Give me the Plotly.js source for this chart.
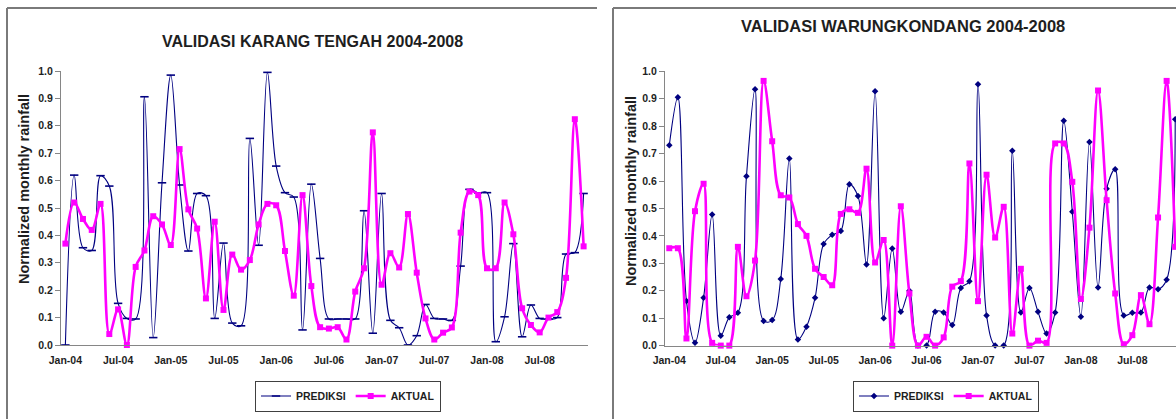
<!DOCTYPE html>
<html>
<head>
<meta charset="utf-8">
<script src="https://cdn.plot.ly/plotly-3.0.1.min.js"></script>
<style>
  html, body { margin: 0; padding: 0; overflow: hidden; background: #fff; }
  #chart { width: 1200px; height: 419px; }
</style>
</head>
<body>
<div id="chart"></div>
<script>
// Monthly categories, Jan 2004 - Dec 2008
const months = [
  'Jan-04','Feb-04','Mar-04','Apr-04','May-04','Jun-04','Jul-04','Aug-04','Sep-04','Oct-04','Nov-04','Dec-04',
  'Jan-05','Feb-05','Mar-05','Apr-05','May-05','Jun-05','Jul-05','Aug-05','Sep-05','Oct-05','Nov-05','Dec-05',
  'Jan-06','Feb-06','Mar-06','Apr-06','May-06','Jun-06','Jul-06','Aug-06','Sep-06','Oct-06','Nov-06','Dec-06',
  'Jan-07','Feb-07','Mar-07','Apr-07','May-07','Jun-07','Jul-07','Aug-07','Sep-07','Oct-07','Nov-07','Dec-07',
  'Jan-08','Feb-08','Mar-08','Apr-08','May-08','Jun-08','Jul-08','Aug-08','Sep-08','Oct-08','Nov-08','Dec-08'
];

// Labelled months on the x axis
const tickLabels = ['Jan-04','Jul-04','Jan-05','Jul-05','Jan-06','Jul-06','Jan-07','Jul-07','Jan-08','Jul-08'];

// Karang Tengah station
const karangPrediksi = [
  0.00, 0.62, 0.355, 0.345, 0.618, 0.58, 0.152, 0.097, 0.095, 0.906, 0.027, 0.592,
  0.985, 0.584, 0.343, 0.553, 0.545, 0.097, 0.372, 0.08, 0.07, 0.754, 0.364, 0.995,
  0.653, 0.556, 0.54, 0.055, 0.587, 0.316, 0.095, 0.095, 0.095, 0.095, 0.49, 0.043,
  0.553, 0.09, 0.063, 0.00, 0.034, 0.148, 0.097, 0.095, 0.09, 0.288, 0.568, 0.555,
  0.556, 0.012, 0.103, 0.37, 0.03, 0.146, 0.097, 0.095, 0.10, 0.332, 0.337, 0.553
];
const karangAktual = [
  0.37, 0.52, 0.46, 0.42, 0.515, 0.04, 0.13, 0.00, 0.285, 0.345, 0.47, 0.44,
  0.365, 0.715, 0.495, 0.425, 0.17, 0.45, 0.128, 0.33, 0.275, 0.31, 0.44, 0.515,
  0.51, 0.343, 0.18, 0.547, 0.215, 0.065, 0.06, 0.065, 0.02, 0.195, 0.28, 0.776,
  0.22, 0.335, 0.283, 0.478, 0.264, 0.097, 0.02, 0.045, 0.064, 0.41, 0.56, 0.547,
  0.28, 0.28, 0.52, 0.404, 0.134, 0.073, 0.046, 0.10, 0.12, 0.245, 0.824, 0.36
];

// Warungkondang station
const warungPrediksi = [
  0.73, 0.905, 0.163, 0.01, 0.174, 0.478, 0.036, 0.103, 0.12, 0.617, 0.935, 0.09,
  0.093, 0.243, 0.682, 0.022, 0.069, 0.174, 0.37, 0.404, 0.418, 0.588, 0.545, 0.296,
  0.927, 0.10, 0.354, 0.123, 0.20, 0.00, 0.00, 0.123, 0.121, 0.075, 0.21, 0.235,
  0.953, 0.11, 0.00, 0.00, 0.71, 0.121, 0.21, 0.123, 0.044, 0.121, 0.82, 0.488,
  0.105, 0.742, 0.212, 0.572, 0.643, 0.11, 0.12, 0.121, 0.212, 0.205, 0.24, 0.825
];
const warungAktual = [
  0.355, 0.355, 0.026, 0.49, 0.59, 0.01, 0.00, 0.00, 0.36, 0.18, 0.31, 0.965,
  0.745, 0.548, 0.54, 0.443, 0.40, 0.28, 0.25, 0.22, 0.48, 0.497, 0.484, 0.645,
  0.303, 0.385, 0.00, 0.508, 0.19, 0.00, 0.032, 0.00, 0.03, 0.215, 0.235, 0.664,
  0.162, 0.623, 0.394, 0.506, 0.044, 0.28, 0.00, 0.018, 0.01, 0.737, 0.737, 0.597,
  0.17, 0.43, 0.93, 0.53, 0.19, 0.005, 0.038, 0.184, 0.078, 0.467, 0.965, 0.36
];

const yTitle = 'Normalized monthly rainfall';

const W = 1200, H = 419;
const px = x => x / W;
const py = y => 1 - y / H;

const FONT = 'Arial, "Liberation Sans", sans-serif';
const NAVY = '#000080';
const MAGENTA = '#ff00ff';
const AXIS = '#868686';
const FRAME = '#7a7a7a';
const TEXT = '#1e1e1e';

// tick marks on month boundaries, every third month
const boundaryTicks = [];
for (let k = 0; k <= months.length; k += 3) boundaryTicks.push(k - 0.5);

function aktualTrace(y, xa, ya, legend) {
  return {
    x: months, y: y, xaxis: xa, yaxis: ya, legend: legend,
    name: 'AKTUAL', type: 'scatter', mode: 'lines+markers',
    line: { color: MAGENTA, width: 2.6, shape: 'spline', smoothing: 1 },
    marker: { symbol: 'square', size: 6, color: MAGENTA },
    cliponaxis: false, hoverinfo: 'x+y'
  };
}

const traces = [
  {
    x: months, y: karangPrediksi, xaxis: 'x', yaxis: 'y', legend: 'legend',
    name: 'PREDIKSI', type: 'scatter', mode: 'lines+markers',
    line: { color: NAVY, width: 1.1, shape: 'spline', smoothing: 1 },
    marker: { symbol: 'line-ew', size: 6, color: NAVY, line: { color: NAVY, width: 1.6 } },
    cliponaxis: false, hoverinfo: 'x+y'
  },
  aktualTrace(karangAktual, 'x', 'y', 'legend'),
  {
    x: months, y: warungPrediksi, xaxis: 'x2', yaxis: 'y2', legend: 'legend2',
    name: 'PREDIKSI', type: 'scatter', mode: 'lines+markers',
    line: { color: NAVY, width: 1.1, shape: 'spline', smoothing: 1 },
    marker: { symbol: 'diamond', size: 5, color: NAVY },
    cliponaxis: false, hoverinfo: 'x+y'
  },
  aktualTrace(warungAktual, 'x2', 'y2', 'legend2')
];

const tickFont = { family: FONT, size: 10.5, color: TEXT, weight: 'bold' };

function categoryAxis(domain, anchor) {
  return {
    domain: domain, anchor: anchor, type: 'category',
    range: [-0.5, months.length - 0.5],
    tickmode: 'array', tickvals: tickLabels, ticktext: tickLabels,
    ticks: '', ticklabelstandoff: 5,
    showline: true, linecolor: AXIS, linewidth: 1,
    showgrid: false, zeroline: false, fixedrange: true,
    tickfont: tickFont
  };
}

function boundaryAxis(over, anchor) {
  return {
    overlaying: over, anchor: anchor, type: 'linear',
    range: [-0.5, months.length - 0.5],
    tickmode: 'array', tickvals: boundaryTicks,
    ticks: 'outside', ticklen: 4, tickwidth: 1, tickcolor: AXIS,
    showticklabels: false, showline: false, showgrid: false, zeroline: false,
    fixedrange: true
  };
}

function valueAxis(domain, anchor) {
  return {
    domain: domain, anchor: anchor, range: [0, 1],
    tickmode: 'linear', tick0: 0, dtick: 0.1, tickformat: '.1f',
    ticks: 'outside', ticklen: 5, tickwidth: 1, tickcolor: AXIS,
    showline: true, linecolor: AXIS, linewidth: 1,
    showgrid: false, zeroline: false, fixedrange: true,
    tickfont: tickFont
  };
}

function legendBox(cx) {
  return {
    orientation: 'h', x: px(cx), y: py(396), xanchor: 'center', yanchor: 'middle',
    bgcolor: '#ffffff', bordercolor: '#404040', borderwidth: 1,
    itemwidth: 30, itemclick: false, itemdoubleclick: false,
    font: { family: FONT, size: 10.5, color: TEXT, weight: 'bold' }
  };
}

function label(text, x, y, size, angle) {
  return {
    xref: 'paper', yref: 'paper', x: px(x), y: py(y),
    xanchor: 'center', yanchor: 'middle', showarrow: false, textangle: angle || 0,
    text: text, font: { family: FONT, size: size, color: TEXT, weight: 'bold' }
  };
}

const frameLine = { color: FRAME, width: 2 };

const layout = {
  width: W, height: H,
  margin: { l: 0, r: 0, t: 0, b: 0 },
  paper_bgcolor: '#ffffff', plot_bgcolor: '#ffffff',
  font: { family: FONT, color: TEXT },
  showlegend: true,
  xaxis: categoryAxis([px(61), px(588)], 'y'),
  yaxis: valueAxis([py(345), py(71)], 'x'),
  xaxis3: boundaryAxis('x', 'y'),
  xaxis2: categoryAxis([px(665), px(1179.5)], 'y2'),
  yaxis2: valueAxis([py(345.6), py(71.3)], 'x2'),
  xaxis4: boundaryAxis('x2', 'y2'),
  legend: legendBox(348),
  legend2: legendBox(946),
  annotations: [
    label('VALIDASI KARANG TENGAH 2004-2008', 313, 41, 16),
    label('VALIDASI WARUNGKONDANG 2004-2008', 903, 26, 16.5),
    label(yTitle, 23.5, 189.5, 14.5, -90),
    label(yTitle, 630.5, 191.5, 14.5, -90)
  ],
  shapes: [
    // chart frames (left and top edges; the rest falls outside the page)
    { type: 'line', xref: 'paper', yref: 'paper', x0: px(7), x1: px(597), y0: py(8), y1: py(8), line: frameLine },
    { type: 'line', xref: 'paper', yref: 'paper', x0: px(7), x1: px(7), y0: py(8), y1: py(440), line: frameLine },
    { type: 'line', xref: 'paper', yref: 'paper', x0: px(613), x1: px(1260), y0: py(8), y1: py(8), line: frameLine },
    { type: 'line', xref: 'paper', yref: 'paper', x0: px(613), x1: px(613), y0: py(8), y1: py(440), line: frameLine }
  ]
};

Plotly.newPlot('chart', traces, layout, { staticPlot: true, displayModeBar: false });
</script>
</body>
</html>
